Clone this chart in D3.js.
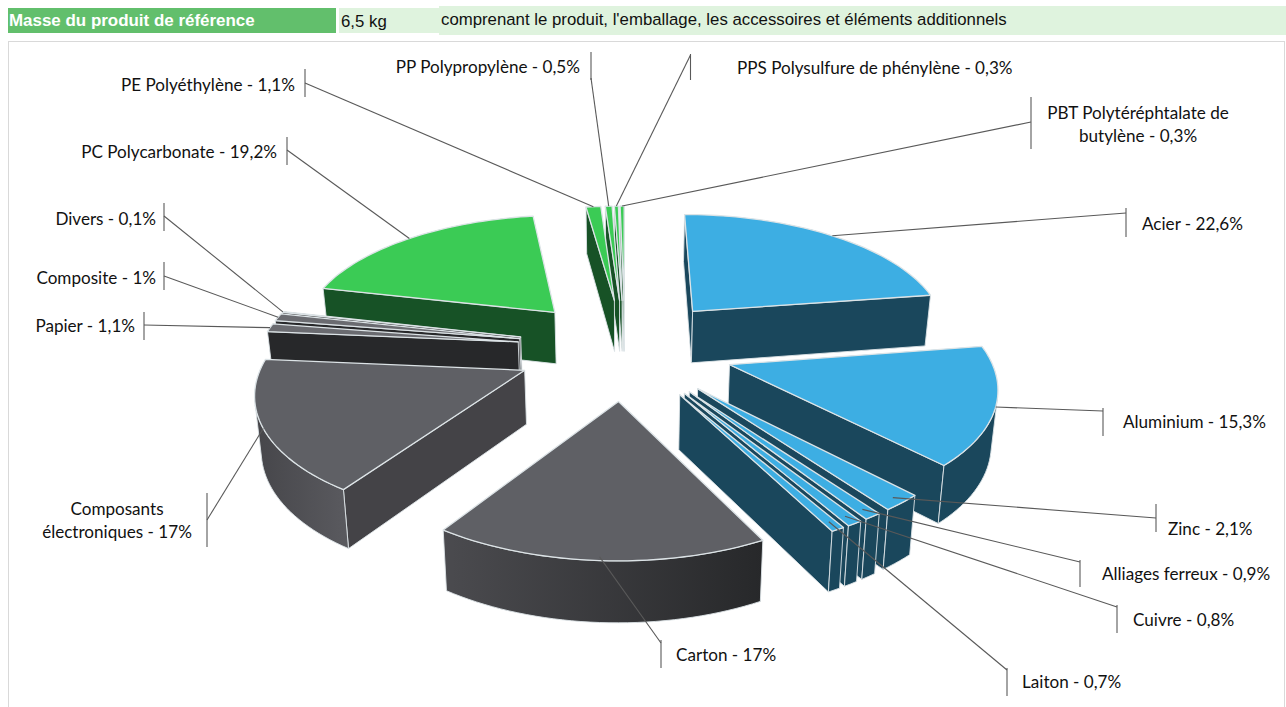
<!DOCTYPE html>
<html>
<head>
<meta charset="utf-8">
<script src="https://cdn.jsdelivr.net/npm/d3@7"></script>
<style>
  body { margin: 0; background: #fff; }
  svg { display: block; }
  .lbl { font-family: Lato, "Open Sans", sans-serif; font-size: 17.1px; fill: #111; }
  .hdr { font-family: "Liberation Sans", Arial, sans-serif; font-size: 16.8px; fill: #111; }
</style>
</head>
<body>
<div id="chart"></div>
<script>
// pie values, clockwise from 12 o'clock
const categories = ['Acier', 'Aluminium', 'Zinc', 'Alliages ferreux', 'Cuivre', 'Laiton', 'Carton',
  'Composants|électroniques', 'Papier', 'Composite', 'Divers', 'PC Polycarbonate', 'PE Polyéthylène',
  'PP Polypropylène', 'PPS Polysulfure de phénylène', 'PBT Polytéréphtalate de|butylène']
const values = [22.6, 15.3, 2.1, 0.9, 0.8, 0.7, 17, 17, 1.1, 1, 0.1, 19.2, 1.1, 0.5, 0.3, 0.3]
const families = ['metal', 'metal', 'metal', 'metal', 'metal', 'metal', 'carton',
  'grey', 'paper', 'paper', 'paper', 'plastic', 'plastic', 'plastic', 'plastic', 'plastic']
const headerTexts = ['Masse du produit de référence', '6,5 kg',
  "comprenant le produit, l'emballage, les accessoires et éléments additionnels"]

// label placement, same order as categories: tick x, tick top, tick bottom, y where the leader joins,
// text anchor, text x, text mid y, radius the leader starts from
const labelLayout = [
  [1126, 208, 237, 213, 'start', 1142, 224, 1],
  [1103, 408, 436, 411, 'start', 1123, 422, 1],
  [1156, 504, 532, 518, 'start', 1168, 529, 0.96],
  [1080, 560, 587, 562, 'start', 1102, 574, 0.95],
  [1117, 605, 633, 607, 'start', 1133, 620, 0.95],
  [1007, 668, 696, 670, 'start', 1022, 682, 0.95],
  [661, 640, 668, 643, 'start', 676, 655, 0.98],
  [207, 493, 547, 520, 'middle', 117, 521, 1],
  [144, 312, 340, 325, 'end', 135, 326, 1],
  [164, 262, 290, 276, 'end', 156, 278, 1],
  [164, 203, 231, 216, 'end', 156, 219, 1],
  [287, 137, 165, 150, 'end', 277, 152, 1],
  [305, 69, 97, 83, 'end', 295, 85, 1],
  [591, 52, 80, 78, 'end', 580, 67, 1],
  [690.5, 54, 80, 55, 'start', 737, 68, 1],
  [1031, 97, 149, 122, 'middle', 1138, 125, 1]
]

const styles = {
  metal: { top: '#3DAEE3', wall: ['#1A475C', '#1A475C'], radial: '#1A475C' },
  carton: { top: '#5F6065', wall: ['#4B4B4F', '#27282A'], radial: '#444347' },
  grey: { top: '#5F6065', wall: ['#46464A', '#59595E'], radial: '#444347' },
  paper: { top: '#6A6B70', wall: ['#27282A', '#27282A'], radial: '#27282A' },
  plastic: { top: '#3BCB55', wall: ['#175226', '#175226'], radial: '#175226' }
}

const W = 1286, H = 707
const explode = 0.42, persp = 7.1, wallH = 53, squeeze = 0.018

const svg = d3.select('#chart').append('svg').attr('width', W).attr('height', H)
const defs = svg.append('defs')

// header strip
svg.append('rect').attr('x', 8).attr('y', 8).attr('width', 328).attr('height', 25).attr('fill', '#62BF6C')
svg.append('rect').attr('x', 339).attr('y', 8).attr('width', 110).attr('height', 25).attr('fill', '#DFF3DE')
svg.append('rect').attr('x', 439).attr('y', 6).attr('width', 847).attr('height', 29).attr('fill', '#DFF3DE')
svg.append('text').attr('class', 'hdr').attr('x', 9).attr('y', 26)
  .style('fill', '#fff').style('font-weight', 'bold').style('font-size', '16.95px').text(headerTexts[0])
svg.append('text').attr('class', 'hdr').attr('x', 341).attr('y', 27).text(headerTexts[1])
svg.append('text').attr('class', 'hdr').attr('x', 441).attr('y', 25).text(headerTexts[2])

// chart frame
svg.append('rect').attr('x', 8.5).attr('y', 41.5).attr('width', 1276).attr('height', 670)
  .attr('fill', '#fff').attr('stroke', '#D9D9D9')

// unit circle space -> screen, with a simple perspective towards the viewer
const xScale = d3.scaleLinear().domain([-1, 1]).range([625 - 258, 625 + 258])
const yScale = d3.scaleLinear().domain([-1, 1]).range([348 - 120, 348 + 120])

function project(u, v, z) {
  let s = 1 / (1 - v / persp)
  return [xScale(u * s * (1 - squeeze * z)), yScale(v * s) + wallH * Math.pow(s, 0.7) * z]
}

const arcs = d3.pie().sort(null).value(d => d)(values).map(function(a, i) {
  let mid = (a.startAngle + a.endAngle) / 2
  return {
    i: i, name: categories[i], value: a.value, family: families[i],
    a0: a.startAngle, a1: a.endAngle, mid: mid,
    du: Math.sin(mid) * explode, dv: -Math.cos(mid) * explode
  }
})

function pt(d, ang, r, z) {
  return project(d.du + Math.sin(ang) * r, d.dv - Math.cos(ang) * r, z)
}

const line = d3.line()
const edge = '#DCE3E6'

// far slices first
const order = arcs.slice().sort(function(a, b) { return a.dv - b.dv })
const pieG = svg.append('g')

order.forEach(function(d) {
  let st = styles[d.family]
  let g = pieG.append('g')
  let steps = Math.max(2, Math.ceil((d.a1 - d.a0) / 0.03))
  let angles = d3.range(steps + 1).map(i => d.a0 + (d.a1 - d.a0) * i / steps)

  // radial walls, only the ones turned to the viewer
  let q0 = [pt(d, d.a0, 1, 0), pt(d, d.a0, 0, 0), pt(d, d.a0, 0, 1), pt(d, d.a0, 1, 1)]
  let q1 = [pt(d, d.a1, 0, 0), pt(d, d.a1, 1, 0), pt(d, d.a1, 1, 1), pt(d, d.a1, 0, 1)]
  ;[q0, q1].forEach(function(q) {
    if (d3.polygonArea(q) > 0) return
    g.append('path').attr('d', line(q) + 'Z').attr('fill', st.radial)
      .attr('stroke', edge).attr('stroke-width', 0.9)
  })

  // outer wall in one piece, shaded left to right
  let visible = d3.pairs(angles).filter(function(pair) {
    let q = [pt(d, pair[1], 1, 0), pt(d, pair[0], 1, 0), pt(d, pair[0], 1, 1), pt(d, pair[1], 1, 1)]
    return d3.polygonArea(q) < 0
  })
  if (visible.length) {
    let vis = [visible[0][0]].concat(visible.map(p => p[1]))
    let upper = vis.map(a => pt(d, a, 1, 0))
    let lower = vis.map(a => pt(d, a, 1, 1)).reverse()
    let xs = d3.extent(upper, p => p[0])
    let gradId = 'wall' + d.i
    let grad = defs.append('linearGradient').attr('id', gradId)
      .attr('gradientUnits', 'userSpaceOnUse')
      .attr('x1', xs[0]).attr('x2', xs[1]).attr('y1', 0).attr('y2', 0)
    grad.append('stop').attr('offset', 0).attr('stop-color', st.wall[0])
    grad.append('stop').attr('offset', 1).attr('stop-color', st.wall[1])
    g.append('path').attr('d', line(upper.concat(lower)) + 'Z').attr('fill', 'url(#' + gradId + ')')
      .attr('stroke', edge).attr('stroke-width', 0.9)
  }

  // top face
  let top = [pt(d, d.a0, 0, 0)].concat(angles.map(a => pt(d, a, 1, 0)))
  g.append('path').attr('d', line(top) + 'Z').attr('fill', st.top)
    .attr('stroke', edge).attr('stroke-width', 1.3).attr('stroke-linejoin', 'round')
})

// leaders, ticks and labels
const lblG = svg.append('g')
arcs.forEach(function(d) {
  let lay = labelLayout[d.i]
  let from = pt(d, d.mid, lay[7], 0)
  lblG.append('line').attr('x1', from[0]).attr('y1', from[1]).attr('x2', lay[0]).attr('y2', lay[3])
    .attr('stroke', '#595959').attr('stroke-width', 1.1)
  lblG.append('line').attr('x1', lay[0]).attr('y1', lay[1]).attr('x2', lay[0]).attr('y2', lay[2])
    .attr('stroke', '#595959').attr('stroke-width', 1.1)

  let pct = String(d.value).replace('.', ',') + '%'
  let lines = (d.name + ' - ' + pct).split('|')
  let t = lblG.append('text').attr('class', 'lbl').attr('text-anchor', lay[4])
  lines.forEach(function(s, k) {
    t.append('tspan').attr('x', lay[5])
      .attr('y', lay[6] + 5.5 + (k - (lines.length - 1) / 2) * 22.5).text(s)
  })
})
</script>
</body>
</html>
